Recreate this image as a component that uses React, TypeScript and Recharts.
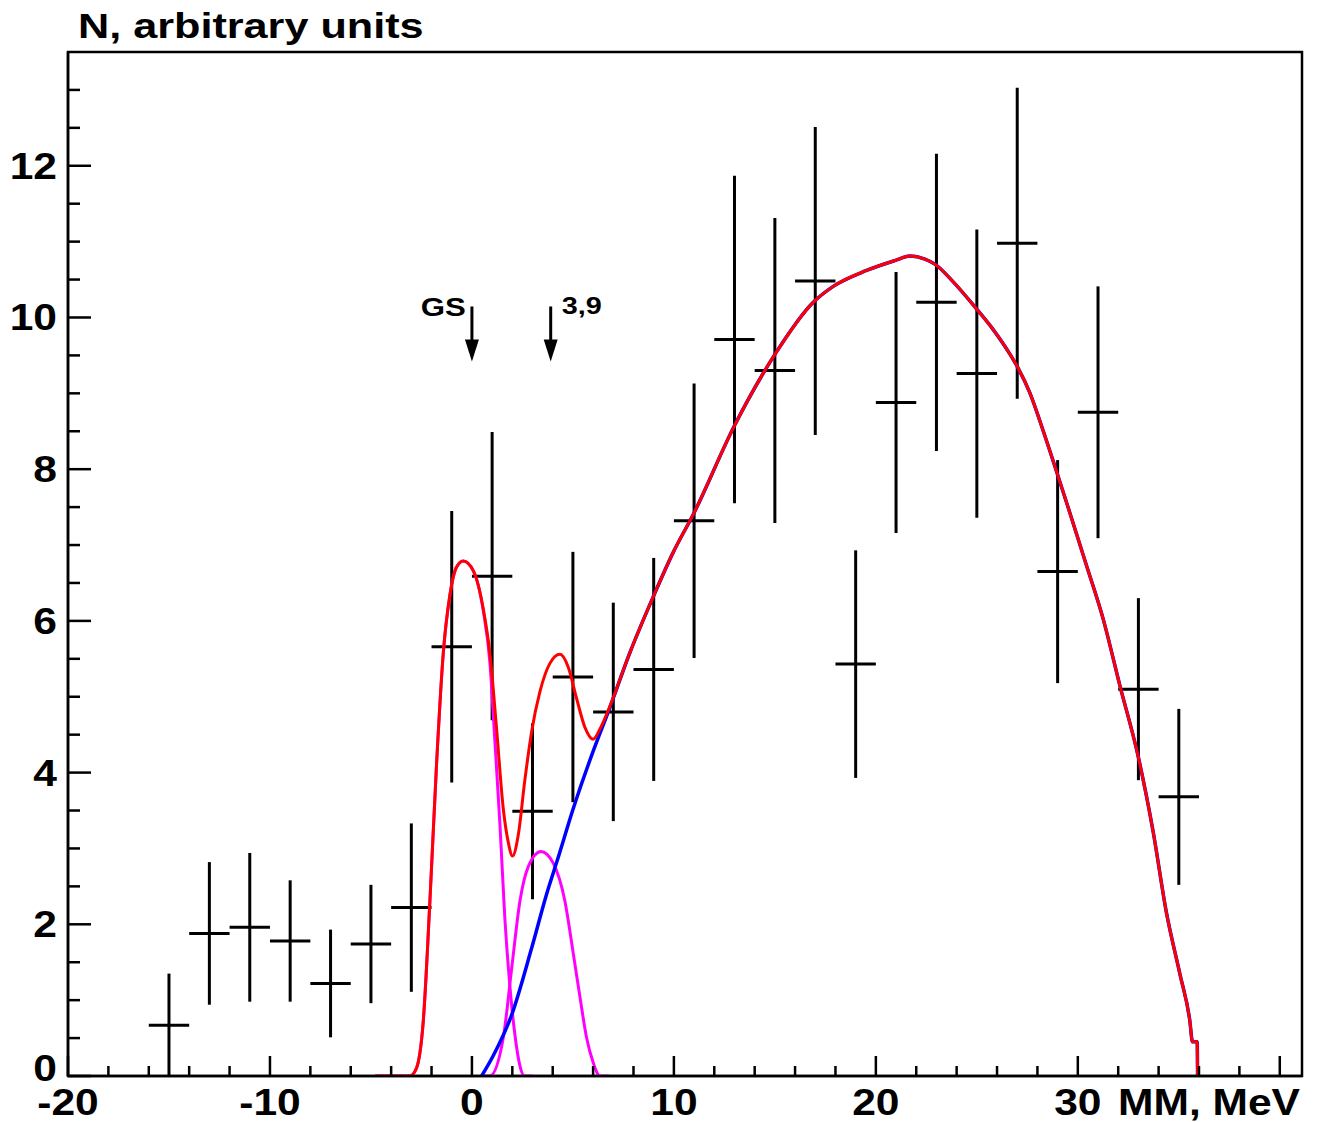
import {
    ComposedChart,
    ErrorBar,
    Line,
    ReferenceArea,
    Scatter,
    XAxis,
    YAxis,
} from "recharts";

const FONT = "'Liberation Sans', Arial, Helvetica, sans-serif";

// histogram: bin centres, counts and statistical errors (2 MeV bins)
export const binCenters = [
    -15, -13, -11, -9, -7, -5, -3, -1, 1, 3, 5, 7, 9, 11, 13, 15, 17, 19, 21,
    23, 25, 27, 29, 31, 33, 35,
];
export const counts = [
    0.67, 1.88, 1.96, 1.78, 1.22, 1.74, 2.22, 5.66, 6.59, 3.49, 5.26, 4.8,
    5.36, 7.32, 9.71, 9.3, 10.48, 5.43, 8.88, 10.2, 9.26, 10.98, 6.65, 8.75,
    5.1, 3.68,
];
export const countErrors = [
    0.68, 0.94, 0.98, 0.8, 0.71, 0.78, 1.11, 1.79, 1.9, 1.16, 1.65, 1.44,
    1.47, 1.81, 2.16, 2.01, 2.03, 1.5, 1.72, 1.96, 1.9, 2.05, 1.47, 1.66, 1.2,
    1.16,
];
export const binHalfWidth = 1;

// total fit (red)
export const fitX = [
    -4.8, -3.07, -2.75, -2.41, -2.08, -1.75, -1.42, -1.09, -0.76, -0.43, 0.07,
    0.56, 0.89, 1.22, 1.55, 1.8, 2.01, 2.29, 2.62, 2.95, 3.37, 3.86, 4.36,
    4.77, 5.18, 5.59, 6.0, 6.42, 6.75, 7.82, 8.98, 9.96, 10.99, 12.99, 14.97,
    16.9, 17.89, 19.54, 20.94, 21.68, 22.43, 22.94, 23.83, 24.9, 25.81, 26.63,
    27.05, 27.62, 28.28, 28.91, 29.6, 30.43, 31.25, 32.08, 33.0, 33.73, 34.39,
    35.05, 35.54, 35.68, 35.91, 35.93,
];
export const fitY = [
    0, 0, 0.1, 0.72, 2.31, 4.12, 5.57, 6.34, 6.71, 6.79, 6.66, 6.16, 5.57,
    4.58, 3.53, 3.08, 2.9, 3.17, 3.9, 4.53, 5.07, 5.44, 5.56, 5.39, 4.98, 4.6,
    4.44, 4.62, 4.82, 5.58, 6.32, 6.9, 7.42, 8.57, 9.5, 10.2, 10.41, 10.62,
    10.75, 10.81, 10.77, 10.7, 10.47, 10.14, 9.84, 9.52, 9.33, 9.01, 8.51, 8.0,
    7.43, 6.73, 6.03, 5.15, 4.2, 3.22, 2.15, 1.35, 0.74, 0.45, 0.45, 0,
];

// background (blue)
export const bgX = [
    0.48, 1.06, 1.96, 2.95, 3.7, 4.27, 5.01, 6.0, 6.75, 7.82, 8.98, 9.96,
    10.99, 12.99, 14.97, 16.9, 17.89, 19.54, 20.94, 21.68, 22.43, 22.94,
    23.83, 24.9, 25.81, 26.63, 27.05, 27.62, 28.28, 28.91, 29.6, 30.43, 31.25,
    32.08, 33.0, 33.73, 34.39, 35.05, 35.54, 35.68, 35.91, 35.93,
];
export const bgY = [
    0, 0.27, 0.8, 1.68, 2.4, 2.88, 3.52, 4.28, 4.8, 5.58, 6.32, 6.9, 7.42,
    8.57, 9.5, 10.2, 10.41, 10.62, 10.75, 10.81, 10.77, 10.7, 10.47, 10.14,
    9.84, 9.52, 9.33, 9.01, 8.51, 8.0, 7.43, 6.73, 6.03, 5.15, 4.2, 3.22, 2.15,
    1.35, 0.74, 0.45, 0.45, 0,
];

// ground state peak (magenta)
export const gsX = [
    -4.8, -3.07, -2.75, -2.41, -2.08, -1.75, -1.42, -1.09, -0.76, -0.43, 0.07,
    0.56, 0.89, 1.14, 1.39, 1.63, 1.88, 2.13, 2.38, 2.6, 3.0,
];
export const gsY = [
    0, 0, 0.1, 0.72, 2.31, 4.12, 5.57, 6.34, 6.71, 6.79, 6.66, 6.14, 5.45,
    4.4, 3.3, 2.08, 1.18, 0.54, 0.13, 0, 0,
];

// 3.9 MeV state peak (magenta)
export const exX = [
    0.5, 0.89, 1.55, 1.96, 2.38, 2.79, 3.42, 4.02, 4.6, 5.01, 5.35, 5.68, 6.0,
    6.34, 6.8,
];
export const exY = [
    0, 0, 0.5, 1.4, 2.31, 2.76, 2.96, 2.81, 2.31, 1.63, 1.04, 0.5, 0.18, 0, 0,
];

// level markers
export const levelX = [0, 3.9];
export const levelLabels = ["GS", "3,9"];
export const markerTipY = 9.42;

// axis ticks
export const xTicks = [
    -20, -18, -16, -14, -12, -10, -8, -6, -4, -2, 0, 2, 4, 6, 8, 10, 12, 14,
    16, 18, 20, 22, 24, 26, 28, 30, 32, 34, 36, 38, 40,
];
export const xLabels = [-20, -10, 0, 10, 20, 30];
export const yTicks = [
    0, 0.5, 1, 1.5, 2, 2.5, 3, 3.5, 4, 4.5, 5, 5.5, 6, 6.5, 7, 7.5, 8, 8.5, 9,
    9.5, 10, 10.5, 11, 11.5, 12, 12.5, 13,
];
export const yLabels = [0, 2, 4, 6, 8, 10, 12];

const toRows = (xs: number[], ys: number[]) =>
    xs.map((x, i) => ({ x, y: ys[i] }));

const histRows = binCenters.map((x, i) => ({
    x,
    y: counts[i],
    ex: binHalfWidth,
    ey: countErrors[i],
}));
const fitRows = toRows(fitX, fitY);
const bgRows = toRows(bgX, bgY);
const gsRows = toRows(gsX, gsY);
const exRows = toRows(exX, exY);
const markerRows = levelX.map((x, i) => ({
    x,
    y: markerTipY,
    label: levelLabels[i],
}));

function XTick(props: any) {
    const { x, y, payload } = props;
    const v = payload.value;
    const major = v % 10 === 0;
    const showLabel = xLabels.includes(v);
    return (
        <g>
            <line
                x1={x}
                x2={x}
                y1={y}
                y2={y - (major ? 20 : 10)}
                stroke="#000"
                strokeWidth={2.5}
            />
            {showLabel && (
                <text
                    transform={`translate(${x},${y + 39}) scale(1.15,1)`}
                    textAnchor="middle"
                    fontFamily={FONT}
                    fontWeight="bold"
                    fontSize={37}
                    fill="#000"
                >
                    {v}
                </text>
            )}
        </g>
    );
}

function YTick(props: any) {
    const { x, y, payload } = props;
    const v = payload.value;
    const major = v % 2 === 0;
    const showLabel = yLabels.includes(v);
    // the zero label sits a little higher so it clears the x labels
    const dy = v === 0 ? 5 : 13;
    return (
        <g>
            <line
                x1={x}
                x2={x + (major ? 23 : 12)}
                y1={y}
                y2={y}
                stroke="#000"
                strokeWidth={2.5}
            />
            {showLabel && (
                <text
                    transform={`translate(${x - 11},${y + dy}) scale(1.15,1)`}
                    textAnchor="end"
                    fontFamily={FONT}
                    fontWeight="bold"
                    fontSize={37}
                    fill="#000"
                >
                    {v}
                </text>
            )}
        </g>
    );
}

function LevelMarker(props: any) {
    const { cx, cy, payload } = props;
    const isGs = payload.label === "GS";
    return (
        <g>
            <line
                x1={cx}
                x2={cx}
                y1={cy - 55}
                y2={cy - 18}
                stroke="#000"
                strokeWidth={3}
            />
            <polygon
                points={`${cx - 7},${cy - 22} ${cx + 7},${cy - 22} ${cx},${cy}`}
                fill="#000"
            />
            <text
                transform={
                    isGs
                        ? `translate(${cx - 6},${cy - 45}) scale(1.2,1)`
                        : `translate(${cx + 11},${cy - 47}) scale(1.2,1)`
                }
                textAnchor={isGs ? "end" : "start"}
                fontFamily={FONT}
                fontWeight="bold"
                fontSize={isGs ? 26 : 24}
                fill="#000"
            >
                {payload.label}
            </text>
        </g>
    );
}

export default function App() {
    return (
        <div
            style={{
                position: "absolute",
                left: 0,
                top: 0,
                width: 1322,
                height: 1122,
                background: "#fff",
            }}
        >
            <ComposedChart
                width={1322}
                height={1122}
                margin={{ top: 52, right: 20, left: 8, bottom: 6 }}
            >
                <XAxis
                    type="number"
                    dataKey="x"
                    domain={[-20, 41.1]}
                    ticks={xTicks}
                    interval={0}
                    tickSize={0}
                    tickMargin={0}
                    tickLine={false}
                    tick={(p: any) => <XTick {...p} />}
                    axisLine={{ stroke: "#000", strokeWidth: 2.5 }}
                    height={40}
                    allowDataOverflow
                />
                <YAxis
                    type="number"
                    dataKey="y"
                    domain={[0, 13.5]}
                    ticks={yTicks}
                    interval={0}
                    tickSize={0}
                    tickMargin={0}
                    tickLine={false}
                    tick={(p: any) => <YTick {...p} />}
                    axisLine={{ stroke: "#000", strokeWidth: 2.5 }}
                    width={60}
                    allowDataOverflow
                />
                <ReferenceArea
                    x1={-20}
                    x2={41.1}
                    y1={0}
                    y2={13.5}
                    fill="none"
                    stroke="#000"
                    strokeWidth={2.5}
                    ifOverflow="visible"
                />
                <Scatter
                    data={histRows}
                    dataKey="y"
                    shape={() => <g />}
                    isAnimationActive={false}
                >
                    <ErrorBar
                        dataKey="ex"
                        direction="x"
                        width={0}
                        stroke="#000"
                        strokeWidth={3}
                        isAnimationActive={false}
                    />
                    <ErrorBar
                        dataKey="ey"
                        direction="y"
                        width={0}
                        stroke="#000"
                        strokeWidth={3}
                        isAnimationActive={false}
                    />
                </Scatter>
                <Line
                    data={gsRows}
                    dataKey="y"
                    type="monotone"
                    stroke="#ff00ff"
                    strokeWidth={3}
                    dot={false}
                    isAnimationActive={false}
                />
                <Line
                    data={exRows}
                    dataKey="y"
                    type="monotone"
                    stroke="#ff00ff"
                    strokeWidth={3}
                    dot={false}
                    isAnimationActive={false}
                />
                <Line
                    data={bgRows}
                    dataKey="y"
                    type="monotone"
                    stroke="#0000ff"
                    strokeWidth={3.5}
                    dot={false}
                    isAnimationActive={false}
                />
                <Line
                    data={fitRows}
                    dataKey="y"
                    type="monotone"
                    stroke="#ff0000"
                    strokeWidth={3}
                    dot={false}
                    isAnimationActive={false}
                />
                <Scatter
                    data={markerRows}
                    dataKey="y"
                    shape={(p: any) => <LevelMarker {...p} />}
                    isAnimationActive={false}
                />
            </ComposedChart>
            <svg
                width={1322}
                height={1122}
                style={{
                    position: "absolute",
                    left: 0,
                    top: 0,
                    pointerEvents: "none",
                }}
            >
                <text
                    transform="translate(78,38) scale(1.2,1)"
                    fontFamily={FONT}
                    fontWeight="bold"
                    fontSize={36}
                    fill="#000"
                >
                    N, arbitrary units
                </text>
                <text
                    transform="translate(1300,1115) scale(1.15,1)"
                    textAnchor="end"
                    fontFamily={FONT}
                    fontWeight="bold"
                    fontSize={37}
                    fill="#000"
                >
                    MM, MeV
                </text>
            </svg>
        </div>
    );
}
